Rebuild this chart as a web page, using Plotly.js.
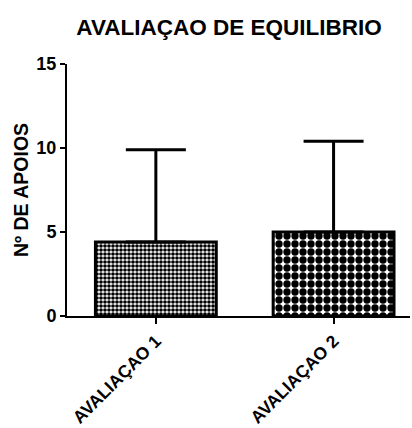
<!DOCTYPE html>
<html>
<head>
<meta charset="utf-8">
<script src="https://cdn.plot.ly/plotly-3.0.1.min.js"></script>
<style>html,body{margin:0;padding:0;background:#fff;}#chart{width:412px;height:428px;}</style>
</head>
<body>
<div id="chart"></div>
<script>
const categories = ["AVALIAÇAO 1", "AVALIAÇAO 2"];
const means = [4.4, 5.0];
const sdUpper = [5.5, 5.4];
const patternSizes = [4, 8];
const yTicks = [0, 5, 10, 15];

const trace = {
  type: "bar",
  x: categories,
  y: means,
  width: 0.68,
  marker: {
    color: "#ffffff",
    line: {color: "#000000", width: 3},
    pattern: {shape: ".", size: patternSizes, solidity: 0.66, fgcolor: "#000000", bgcolor: "#ffffff", fillmode: "replace"}
  },
  error_y: {type: "data", symmetric: false, array: sdUpper, arrayminus: [0, 0], color: "#000000", thickness: 3, width: 30},
  hoverinfo: "skip"
};

const boldFont = {family: "Liberation Sans, Arial, sans-serif", color: "#000000", weight: "bold"};

const layout = {
  width: 412, height: 428,
  margin: {l: 67, r: 2, t: 64, b: 112},
  paper_bgcolor: "#ffffff", plot_bgcolor: "#ffffff",
  showlegend: false,
  title: {text: "AVALIAÇAO DE EQUILIBRIO", font: Object.assign({size: 22.5}, boldFont), x: 0.556, xref: "container", xanchor: "center", y: 0.937, yref: "container", yanchor: "middle"},
  xaxis: {
    type: "category",
    range: [-0.5, 1.43],
    showline: true, linecolor: "#000000", linewidth: 2,
    ticks: "outside", ticklen: 6, tickwidth: 2, tickcolor: "#000000",
    tickangle: -45,
    tickfont: Object.assign({size: 17.5}, boldFont),
    showgrid: false, zeroline: false, automargin: false
  },
  yaxis: {
    range: [0, 15],
    tickvals: yTicks,
    showline: true, linecolor: "#000000", linewidth: 2,
    ticks: "outside", ticklen: 5, tickwidth: 2, tickcolor: "#000000",
    tickfont: Object.assign({size: 18}, boldFont),
    showgrid: false, zeroline: false, automargin: false,
    title: {text: "Nº DE APOIOS", font: Object.assign({size: 19.5}, boldFont), standoff: 3}
  }
};

Plotly.newPlot("chart", [trace], layout, {displayModeBar: false, staticPlot: true});
</script>
</body>
</html>
